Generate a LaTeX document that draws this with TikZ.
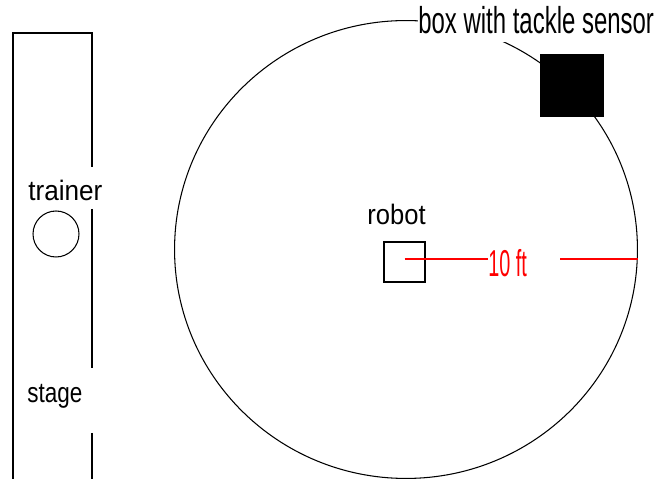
\documentclass[tikz,border=0pt]{standalone}
\usepackage{fontspec}
\usepackage{graphicx}
\newfontfamily\agency{Liberation Sans}
\usetikzlibrary{calc, shapes.geometric}

\begin{document}
\begin{tikzpicture}[
        x=0.02cm, y=-0.02cm,
        thin line/.style={draw, line width=0.6pt},
        lbl/.style={anchor=base west, inner sep=0pt, font=\agency\fontsize{16}{16}\selectfont},
        big lbl/.style={lbl, font=\agency\fontsize{21.3}{22}\selectfont},
        dist line/.style={draw=red, line width=0.6pt}
    ]
        \clip (0,0) rectangle (657,479);
        \useasboundingbox (0,0) rectangle (657,479);

        % Stage
        \draw[thin line] (13,479) -- (13,33) -- (92,33) -- (92,167)
            (92,209) -- (92,368)
            (92,433) -- (92,479);
        \node[lbl] (trainerLbl) at (28,201) {\scalebox{0.93}[1]{trainer}};
        \node[thin line, circle, minimum size=0.92cm, inner sep=0pt] (trainer) at (56,234) {};
        \node[lbl] (stageLbl) at (27,403) {\scalebox{0.8}[1]{stage}};

        % Arena
        \node[thin line, ellipse, minimum width=9.26cm, minimum height=9.16cm, inner sep=0pt] (arena) at (406,249.5) {};

        % Sensor box
        \node[big lbl, fill=white, inner ysep=0.16cm] (sensorLbl) at (418,34) {\scalebox{0.64}[1]{box with tackle sensor}};
        \node[fill=black, minimum width=1.28cm, minimum height=1.26cm, inner sep=0pt] (sensor) at (572,85.5) {};

        % Robot
        \node[thin line, minimum width=0.82cm, minimum height=0.8cm, inner sep=0pt] (robot) at (404.5,262) {};
        \node[lbl] (robotLbl) at (367,225) {\scalebox{0.91}[1]{robot}};

        % Distance
        \coordinate (rc) at (404.5,259);
        \node[big lbl, text=red] (ft) at (488,277) {\scalebox{0.53}[1]{10 ft}};
        \coordinate (ftEnd) at (560,259);
        \draw[dist line] (rc) -- (rc -| ft.west);
        \draw[dist line] (ftEnd) -- (rc -| arena.east);

    \end{tikzpicture}
\end{document}
